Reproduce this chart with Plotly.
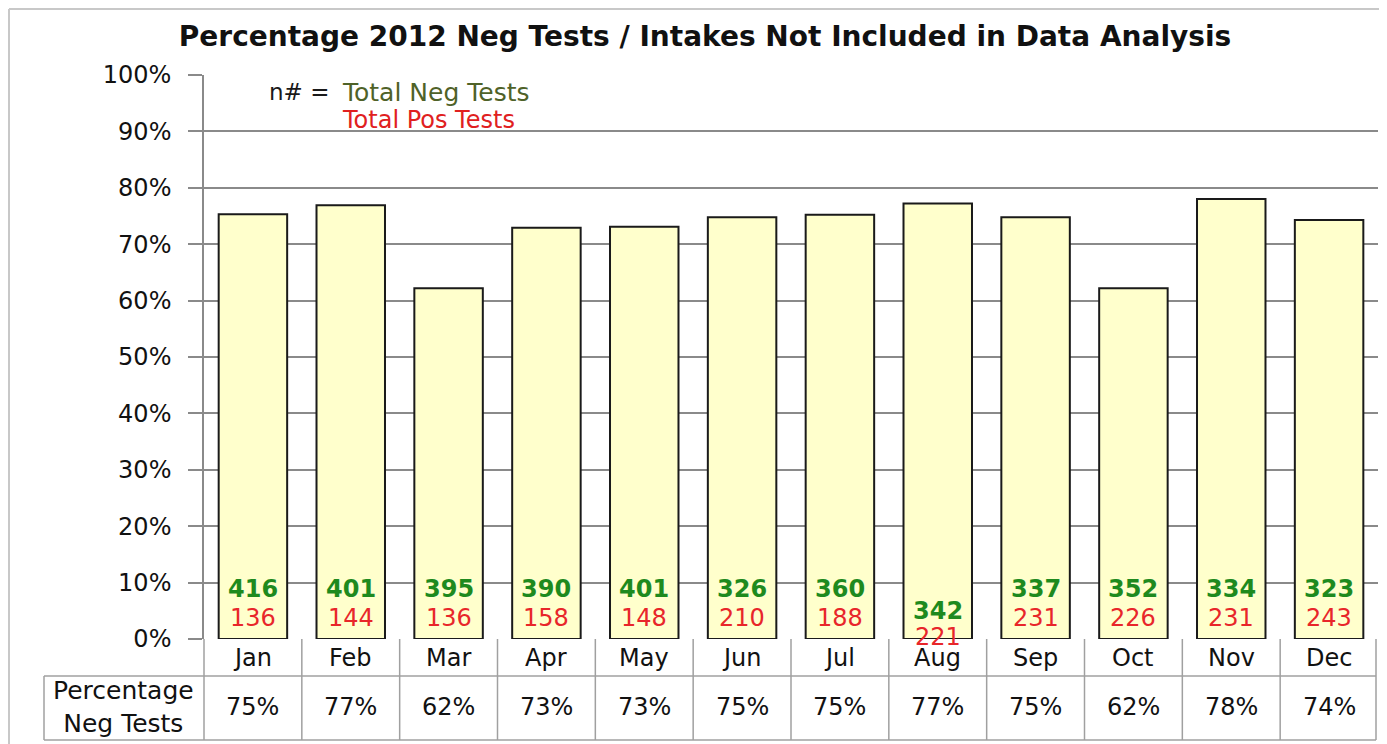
import plotly.graph_objects as go

months = ["Jan", "Feb", "Mar", "Apr", "May", "Jun", "Jul", "Aug", "Sep", "Oct", "Nov", "Dec"]
pct_neg = [75.3, 76.9, 62.2, 72.9, 73.1, 74.8, 75.2, 77.2, 74.8, 62.2, 78.0, 74.3]
neg_tests = [416, 401, 395, 390, 401, 326, 360, 342, 337, 352, 334, 323]
pos_tests = [136, 144, 136, 158, 148, 210, 188, 221, 231, 226, 231, 243]
pct_labels = ["75%", "77%", "62%", "73%", "73%", "75%", "75%", "77%", "75%", "62%", "78%", "74%"]
title_text = "Percentage 2012 Neg Tests / Intakes Not Included in Data Analysis"
row_header = "Percentage<br>Neg Tests"

# page is rendered with an 8px body margin -> work in page pixels, convert
OFF = 8
PAGE_W, PAGE_H = 1387, 744
W, H = PAGE_W - OFF, PAGE_H - OFF
PLOT_L, PLOT_R, PLOT_T, PLOT_B = 204, 1378, 75, 639   # page pixels
ML = PLOT_L - OFF
MR = W - (PLOT_R - OFF)
MT = PLOT_T - OFF
MB = H - (PLOT_B - OFF)
plot_h = H - MT - MB
plot_w = W - ML - MR

FONT = "DejaVu Sans"
GRID = "#8a8a8a"
TABLE = "#a0a0a0"


def py(px):
    return (PLOT_B - px) / plot_h


def pxx(px):
    return (px - PLOT_L) / plot_w


fig = go.Figure()
fig.add_trace(go.Bar(
    x=list(range(len(months))), y=pct_neg, width=0.7,
    marker=dict(color="#FFFFCC", line=dict(color="#1a1a1a", width=2)),
    hoverinfo="skip", showlegend=False,
))

ann = []
for i in range(len(months)):
    g_y, r_y = 589, 618
    if months[i] == "Aug":
        g_y, r_y = 611, 637
    ann.append(dict(x=i, y=py(g_y), xref="x", yref="paper", text=f"<b>{neg_tests[i]}</b>",
                    showarrow=False, font=dict(family=FONT, size=24, color="#1e8a1e"),
                    xanchor="center", yanchor="middle"))
    ann.append(dict(x=i, y=py(r_y), xref="x", yref="paper", text=str(pos_tests[i]),
                    showarrow=False, font=dict(family=FONT, size=24, color="#e8262a"),
                    xanchor="center", yanchor="middle"))
    ann.append(dict(x=i, y=py(658), xref="x", yref="paper", text=months[i],
                    showarrow=False, font=dict(family=FONT, size=24, color="#111111"),
                    xanchor="center", yanchor="middle"))
    ann.append(dict(x=i, y=py(707), xref="x", yref="paper", text=pct_labels[i],
                    showarrow=False, font=dict(family=FONT, size=24, color="#111111"),
                    xanchor="center", yanchor="middle"))

ann.append(dict(x=pxx(123), y=py(707), xref="paper", yref="paper", text=row_header,
                showarrow=False, font=dict(family=FONT, size=25, color="#111111"),
                xanchor="center", yanchor="middle", align="center"))
ann.append(dict(x=pxx(331), y=py(92), xref="paper", yref="paper", text="n# =",
                showarrow=False, font=dict(family=FONT, size=23, color="#1a1a1a"),
                xanchor="right", yanchor="middle"))
ann.append(dict(x=pxx(340), y=py(92), xref="paper", yref="paper", text="Total Neg Tests",
                showarrow=False, font=dict(family=FONT, size=25, color="#4f6228"),
                xanchor="left", yanchor="middle"))
ann.append(dict(x=pxx(340), y=py(120), xref="paper", yref="paper", text="Total Pos Tests",
                showarrow=False, font=dict(family=FONT, size=24, color="#e02020"),
                xanchor="left", yanchor="middle"))

shapes = []
y_row1 = py(676)
y_row2 = py(740)
for yy in (y_row1, y_row2):
    shapes.append(dict(type="line", xref="paper", yref="paper", x0=pxx(44), x1=pxx(1376),
                       y0=yy, y1=yy, line=dict(color=TABLE, width=1.5)))
shapes.append(dict(type="line", xref="paper", yref="paper", x0=pxx(44), x1=pxx(44),
                   y0=y_row1, y1=y_row2, line=dict(color=TABLE, width=1.5)))
shapes.append(dict(type="line", xref="paper", yref="paper", x0=0, x1=0,
                   y0=0, y1=y_row2, line=dict(color=TABLE, width=1.5)))
for k in range(len(months)):
    xb = pxx(PLOT_L + (k + 1) * plot_w / 12 - (2 if k == len(months) - 1 else 0))
    shapes.append(dict(type="line", xref="paper", yref="paper", x0=xb, x1=xb,
                       y0=0, y1=y_row2, line=dict(color=TABLE, width=1.5)))
# outer chart border (left edge and top)
shapes.append(dict(type="line", xref="paper", yref="paper", x0=pxx(9), x1=pxx(9),
                   y0=py(9), y1=py(760), line=dict(color="#c8c8c8", width=2)))
shapes.append(dict(type="line", xref="paper", yref="paper", x0=pxx(9), x1=pxx(1400),
                   y0=py(9), y1=py(9), line=dict(color="#c8c8c8", width=2)))

fig.update_layout(
    width=W, height=H,
    margin=dict(l=ML, r=MR, t=MT, b=MB, autoexpand=False),
    paper_bgcolor="white", plot_bgcolor="white",
    title=dict(text=f"<b>{title_text}</b>", x=(705 - OFF) / W, xanchor="center",
               y=1 - (36 - OFF) / H, yanchor="middle",
               font=dict(family=FONT, size=28, color="#111111")),
    xaxis=dict(range=[-0.5, 11.5], showticklabels=False, ticks="", showgrid=False,
               zeroline=False, showline=False, fixedrange=True),
    yaxis=dict(range=[0, 100], tickmode="array", tickvals=list(range(0, 101, 10)),
               ticktext=[f"{v}%" for v in range(0, 101, 10)],
               ticks="outside", ticklen=14, tickcolor=GRID, tickwidth=1.5,
               showgrid=True, gridcolor=GRID, gridwidth=1.5,
               showline=True, linecolor=GRID, linewidth=1.5, zeroline=False,
               tickfont=dict(family=FONT, size=24, color="#111111"), ticklabelstandoff=12),
    annotations=ann, shapes=shapes, bargap=0.3,
)

fig.write_html("out.html")
